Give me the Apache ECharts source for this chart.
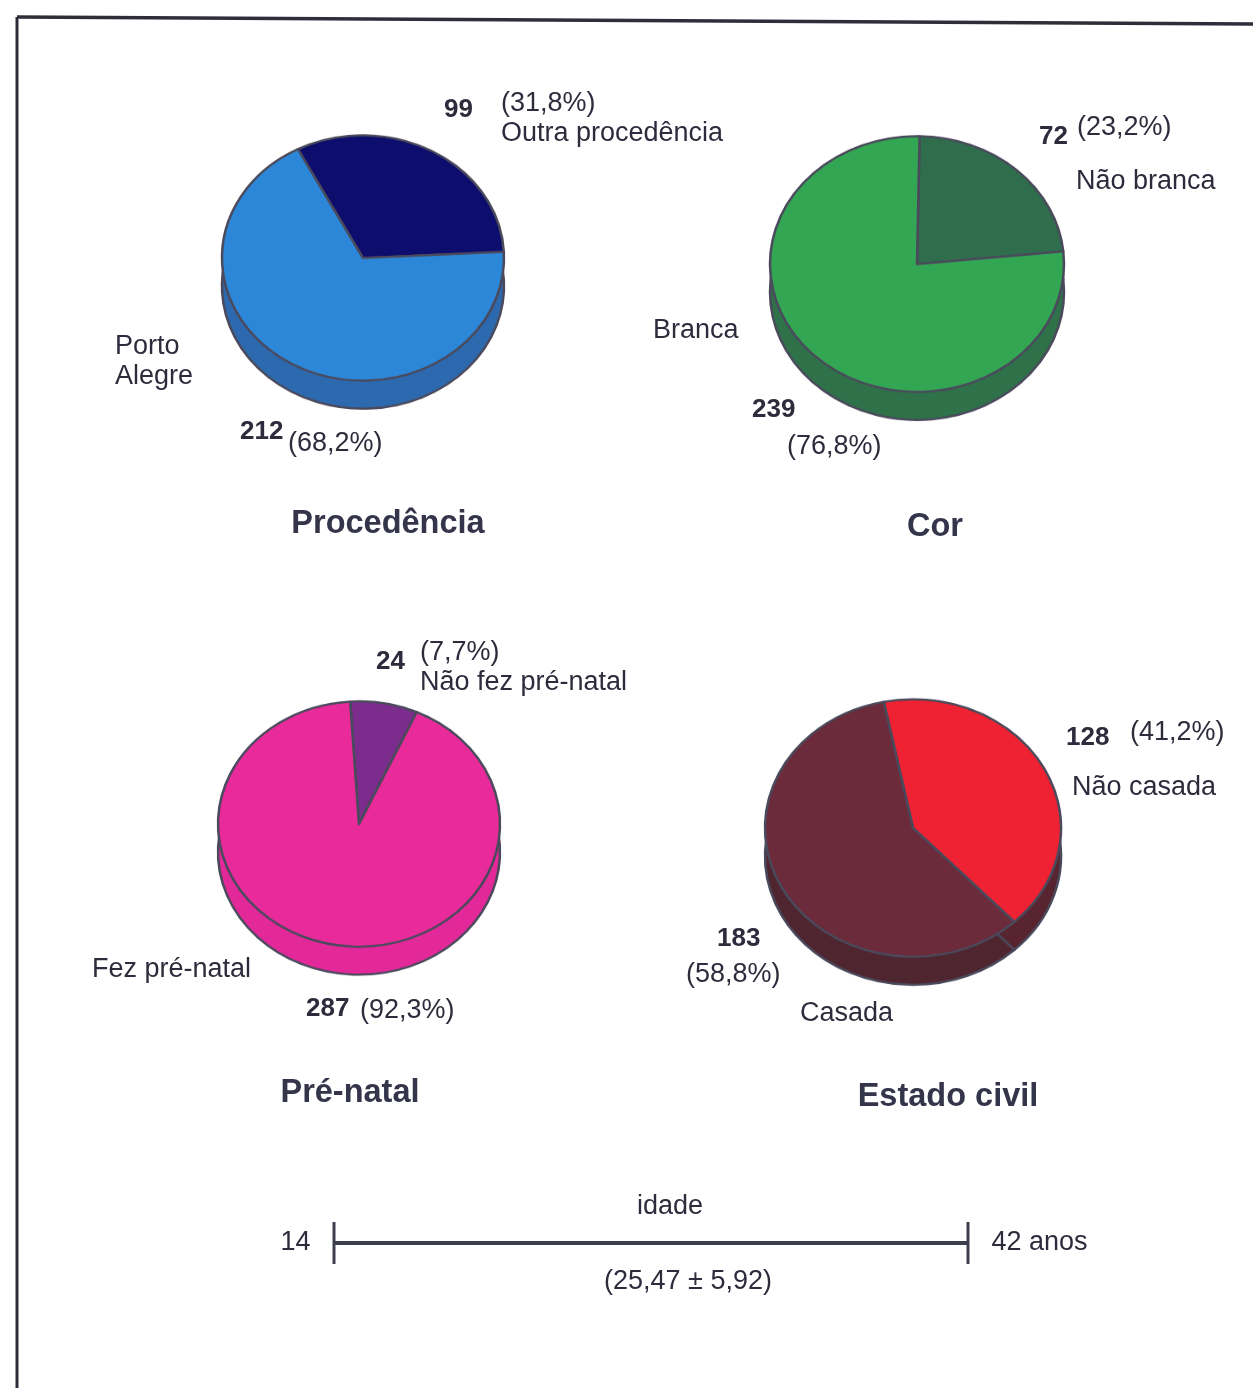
<!DOCTYPE html>
<html>
<head>
<meta charset="utf-8">
<title>Perfil das gestantes</title>
<script src="https://cdn.jsdelivr.net/npm/echarts@6/dist/echarts.min.js"></script>
<style>
  html, body { margin: 0; padding: 0; background: #ffffff; }
  #wrap { position: relative; width: 1253px; height: 1388px; overflow: hidden; }
  #pies { position: absolute; left: 0; top: 0; width: 1253px; height: 1388px; transform-origin: 0 0; }
  #main { position: absolute; left: 0; top: 0; width: 1253px; height: 1388px; }
</style>
</head>
<body>
<div id="wrap">
  <div id="pies"></div>
  <div id="main"></div>
</div>
<script>
// ---- data ----
const procedenciaNames = ['Outra procedência', 'Porto Alegre'];
const procedenciaValues = [99, 212];
const corNames = ['Não branca', 'Branca'];
const corValues = [72, 239];
const preNatalNames = ['Não fez pré-natal', 'Fez pré-natal'];
const preNatalValues = [24, 287];
const estadoCivilNames = ['Não casada', 'Casada'];
const estadoCivilValues = [128, 183];
const chartTitles = ['Procedência', 'Cor', 'Pré-natal', 'Estado civil'];
const ageRange = [14, 42];
const ageMean = 25.47;
const ageSd = 5.92;

// ---- styling ----
const TILT = 0.87;      // vertical squash of the pie tops (tilted disc look)
const DEPTH = 28;       // thickness of the disc side, px
const EDGE = '#4a4a5c';
const INK = '#2c2c3c';
const FONT = '"Liberation Sans", Arial, Helvetica, sans-serif';
const LABEL_SIZE = 27;

function pct(v, arr) {
  const total = arr.reduce((a, b) => a + b, 0);
  return '(' + (v / total * 100).toFixed(1).replace('.', ',') + '%)';
}

// one tilted pie = side disc (shifted down, darker) + top face
function tiltedPie(cx, cy, r, startAngle, names, values, topColors, sideColors) {
  const mk = (colors) => names.map((n, i) => ({ name: n, value: values[i], itemStyle: { color: colors[i] } }));
  const common = {
    type: 'pie', radius: [0, r], startAngle: startAngle, clockwise: true,
    label: { show: false }, labelLine: { show: false },
    emphasis: { disabled: true }, silent: true, animation: false
  };
  return [
    Object.assign({}, common, {
      z: 1, center: [cx, (cy + DEPTH) / TILT], data: mk(sideColors),
      itemStyle: { borderColor: EDGE, borderWidth: 2.5 }
    }),
    Object.assign({}, common, {
      z: 2, center: [cx, cy / TILT], data: mk(topColors),
      itemStyle: { borderColor: EDGE, borderWidth: 2.5 }
    })
  ];
}

const piesEl = document.getElementById('pies');
piesEl.style.transform = 'scaleY(' + TILT + ')';
const pies = echarts.init(piesEl, null, { renderer: 'canvas' });
pies.setOption({
  animation: false,
  series: [].concat(
    tiltedPie(363, 258, 141, 117.5, procedenciaNames, procedenciaValues, ['#0d0d6e', '#2d87d8'], ['#0d0d60', '#2d69ae']),
    tiltedPie(917, 264, 147, 89, corNames, corValues, ['#2f6d4c', '#33a653'], ['#2c6846', '#2f7149']),
    tiltedPie(359, 824, 141, 93.6, preNatalNames, preNatalValues, ['#7b2c8c', '#e92a9b'], ['#6a2a7a', '#e3289a']),
    tiltedPie(913, 828, 148, 101.4, estadoCivilNames, estadoCivilValues, ['#ee2232', '#6b2b3b'], ['#58242f', '#4f2630'])
  )
});

// ---- texts, frame and age range ----
function txt(x, y, s, opt) {
  opt = opt || {};
  return {
    type: 'text', x: x, y: y, silent: true, z: 10,
    style: {
      text: s, fill: opt.fill || INK,
      font: (opt.bold ? 'bold ' : '') + (opt.size || LABEL_SIZE) + 'px ' + FONT,
      textAlign: opt.align || 'left', textVerticalAlign: 'middle'
    }
  };
}
const num = (x, y, v) => txt(x, y, String(v), { bold: true, size: 26 });
const title = (x, y, s) => txt(x, y, s, { bold: true, size: 32.5, align: 'center', fill: '#34344a' });

const graphics = [
  // page frame
  { type: 'line', silent: true, shape: { x1: 17, y1: 17, x2: 17, y2: 1388 }, style: { stroke: '#2e2e3a', lineWidth: 3 } },
  { type: 'line', silent: true, shape: { x1: 17, y1: 17, x2: 1253, y2: 24 }, style: { stroke: '#2e2e3a', lineWidth: 3.5 } },

  // Procedência
  num(444, 110, procedenciaValues[0]),
  txt(501, 104, pct(procedenciaValues[0], procedenciaValues)),
  txt(501, 134, procedenciaNames[0]),
  txt(115, 347, 'Porto'),
  txt(115, 377, 'Alegre'),
  num(240, 432, procedenciaValues[1]),
  txt(288, 444, pct(procedenciaValues[1], procedenciaValues)),
  title(388, 524, chartTitles[0]),

  // Cor
  num(1039, 137, corValues[0]),
  txt(1077, 128, pct(corValues[0], corValues)),
  txt(1076, 182, corNames[0]),
  txt(653, 331, corNames[1]),
  num(752, 410, corValues[1]),
  txt(787, 447, pct(corValues[1], corValues)),
  title(935, 527, chartTitles[1]),

  // Pré-natal
  num(376, 662, preNatalValues[0]),
  txt(420, 653, pct(preNatalValues[0], preNatalValues)),
  txt(420, 683, preNatalNames[0]),
  txt(92, 970, preNatalNames[1]),
  num(306, 1009, preNatalValues[1]),
  txt(360, 1011, pct(preNatalValues[1], preNatalValues)),
  title(350, 1093, chartTitles[2]),

  // Estado civil
  num(717, 939, estadoCivilValues[1]),
  num(1066, 738, estadoCivilValues[0]),
  txt(1130, 733, pct(estadoCivilValues[0], estadoCivilValues)),
  txt(1072, 788, estadoCivilNames[0]),
  txt(686, 975, pct(estadoCivilValues[1], estadoCivilValues)),
  txt(800, 1014, estadoCivilNames[1]),
  title(948, 1097, chartTitles[3]),

  // idade
  txt(670, 1207, 'idade', { align: 'center' }),
  txt(688, 1282, '(' + ageMean.toFixed(2).replace('.', ',') + ' ± ' + ageSd.toFixed(2).replace('.', ',') + ')', { align: 'center' })
];

const main = echarts.init(document.getElementById('main'), null, { renderer: 'canvas' });
main.setOption({
  animation: false,
  backgroundColor: 'transparent',
  grid: { left: 334, width: 634, top: 1223, height: 40 },
  xAxis: { type: 'value', min: ageRange[0], max: ageRange[1], show: false },
  yAxis: { type: 'value', min: -1, max: 1, show: false },
  series: [
    {
      type: 'line', silent: true, symbol: 'none',
      data: [[ageRange[0], 0], [ageRange[1], 0]],
      lineStyle: { color: '#3d3d50', width: 4 }
    },
    {
      type: 'scatter', silent: true, symbol: 'rect', symbolSize: [3, 42],
      itemStyle: { color: '#3d3d50', opacity: 1 },
      data: [
        { value: [ageRange[0], 0], label: { position: 'left', formatter: String(ageRange[0]) } },
        { value: [ageRange[1], 0], label: { position: 'right', formatter: ageRange[1] + ' anos' } }
      ],
      label: { show: true, distance: 22, color: INK, opacity: 1, fontSize: LABEL_SIZE, fontFamily: FONT }
    }
  ],
  graphic: graphics
});
</script>
</body>
</html>
